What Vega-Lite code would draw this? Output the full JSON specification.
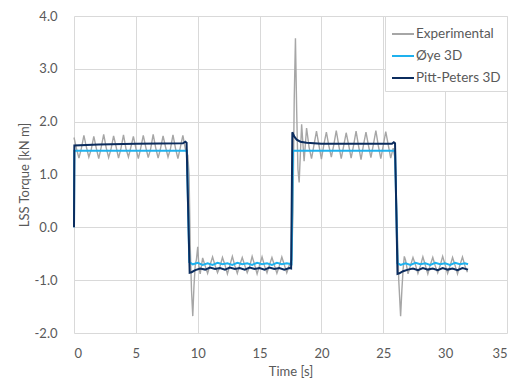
{
  "$schema": "https://vega.github.io/schema/vega-lite/v6.json",
  "width": 433,
  "height": 317,
  "autosize": {"type": "none"},
  "padding": {"left": 74, "top": 16, "right": 11, "bottom": 54},
  "background": "white",
  "datasets": {
    "exp": [
      {"t":0.0,"v":1.70},{"t":0.2,"v":1.49},{"t":0.4,"v":1.31},{"t":0.6,"v":1.50},{"t":0.8,"v":1.74},{"t":1.0,"v":1.52},{"t":1.2,"v":1.33},{"t":1.4,"v":1.48},{"t":1.6,"v":1.72},{"t":1.8,"v":1.50},
      {"t":2.0,"v":1.30},{"t":2.2,"v":1.52},{"t":2.4,"v":1.76},{"t":2.6,"v":1.51},{"t":2.8,"v":1.32},{"t":3.0,"v":1.49},{"t":3.2,"v":1.73},{"t":3.4,"v":1.53},{"t":3.6,"v":1.31},{"t":3.8,"v":1.50},
      {"t":4.0,"v":1.75},{"t":4.2,"v":1.49},{"t":4.4,"v":1.33},{"t":4.6,"v":1.52},{"t":4.8,"v":1.72},{"t":5.0,"v":1.50},{"t":5.2,"v":1.30},{"t":5.4,"v":1.51},{"t":5.6,"v":1.74},{"t":5.8,"v":1.52},
      {"t":6.0,"v":1.32},{"t":6.2,"v":1.49},{"t":6.4,"v":1.76},{"t":6.6,"v":1.51},{"t":6.8,"v":1.31},{"t":7.0,"v":1.50},{"t":7.2,"v":1.73},{"t":7.4,"v":1.52},{"t":7.6,"v":1.33},{"t":7.8,"v":1.49},
      {"t":8.0,"v":1.75},{"t":8.2,"v":1.50},{"t":8.4,"v":1.30},{"t":8.6,"v":1.52},{"t":8.8,"v":1.74},{"t":9.0,"v":1.48},{"t":9.2,"v":1.36},{"t":9.3,"v":1.0},{"t":9.4,"v":-0.4},{"t":9.5,"v":-1.2},
      {"t":9.6,"v":-1.68},{"t":9.7,"v":-1.1},{"t":9.8,"v":-0.72},{"t":9.9,"v":-0.6},{"t":10.0,"v":-0.37},{"t":10.1,"v":-0.75},{"t":10.2,"v":-0.88},{"t":10.4,"v":-0.58},{"t":10.6,"v":-0.73},{"t":10.8,"v":-0.87},
      {"t":11.0,"v":-0.71},{"t":11.2,"v":-0.56},{"t":11.4,"v":-0.72},{"t":11.6,"v":-0.86},{"t":11.8,"v":-0.74},{"t":12.0,"v":-0.57},{"t":12.2,"v":-0.71},{"t":12.4,"v":-0.88},{"t":12.6,"v":-0.72},{"t":12.8,"v":-0.55},
      {"t":13.0,"v":-0.73},{"t":13.2,"v":-0.87},{"t":13.4,"v":-0.71},{"t":13.6,"v":-0.57},{"t":13.8,"v":-0.72},{"t":14.0,"v":-0.86},{"t":14.2,"v":-0.74},{"t":14.4,"v":-0.55},{"t":14.6,"v":-0.71},{"t":14.8,"v":-0.88},
      {"t":15.0,"v":-0.72},{"t":15.2,"v":-0.56},{"t":15.4,"v":-0.73},{"t":15.6,"v":-0.86},{"t":15.8,"v":-0.71},{"t":16.0,"v":-0.57},{"t":16.2,"v":-0.72},{"t":16.4,"v":-0.87},{"t":16.6,"v":-0.73},{"t":16.8,"v":-0.56},
      {"t":17.0,"v":-0.71},{"t":17.2,"v":-0.86},{"t":17.4,"v":-0.72},{"t":17.6,"v":-0.62},{"t":17.7,"v":0.3},{"t":17.8,"v":2.4},{"t":17.9,"v":3.58},{"t":18.0,"v":2.2},{"t":18.1,"v":1.1},{"t":18.2,"v":0.85},
      {"t":18.3,"v":1.4},{"t":18.4,"v":1.95},{"t":18.5,"v":1.6},{"t":18.6,"v":1.25},{"t":18.8,"v":1.88},{"t":19.0,"v":1.52},{"t":19.2,"v":1.30},{"t":19.4,"v":1.56},{"t":19.6,"v":1.82},{"t":19.8,"v":1.55},
      {"t":20.0,"v":1.29},{"t":20.2,"v":1.57},{"t":20.4,"v":1.80},{"t":20.6,"v":1.54},{"t":20.8,"v":1.33},{"t":21.0,"v":1.56},{"t":21.2,"v":1.83},{"t":21.4,"v":1.55},{"t":21.6,"v":1.30},{"t":21.8,"v":1.54},
      {"t":22.0,"v":1.79},{"t":22.2,"v":1.56},{"t":22.4,"v":1.31},{"t":22.6,"v":1.55},{"t":22.8,"v":1.82},{"t":23.0,"v":1.54},{"t":23.2,"v":1.28},{"t":23.4,"v":1.56},{"t":23.6,"v":1.80},{"t":23.8,"v":1.55},
      {"t":24.0,"v":1.32},{"t":24.2,"v":1.57},{"t":24.4,"v":1.83},{"t":24.6,"v":1.54},{"t":24.8,"v":1.30},{"t":25.0,"v":1.55},{"t":25.2,"v":1.81},{"t":25.4,"v":1.56},{"t":25.6,"v":1.31},{"t":25.8,"v":1.50},
      {"t":25.95,"v":1.3},{"t":26.1,"v":0.2},{"t":26.25,"v":-1.0},{"t":26.4,"v":-1.68},{"t":26.5,"v":-1.2},{"t":26.6,"v":-0.8},{"t":26.7,"v":-0.55},{"t":26.8,"v":-0.62},{"t":27.0,"v":-0.88},{"t":27.2,"v":-0.72},
      {"t":27.4,"v":-0.57},{"t":27.6,"v":-0.71},{"t":27.8,"v":-0.87},{"t":28.0,"v":-0.73},{"t":28.2,"v":-0.56},{"t":28.4,"v":-0.72},{"t":28.6,"v":-0.88},{"t":28.8,"v":-0.71},{"t":29.0,"v":-0.57},{"t":29.2,"v":-0.73},
      {"t":29.4,"v":-0.86},{"t":29.6,"v":-0.72},{"t":29.8,"v":-0.55},{"t":30.0,"v":-0.71},{"t":30.2,"v":-0.87},{"t":30.4,"v":-0.73},{"t":30.6,"v":-0.57},{"t":30.8,"v":-0.72},{"t":31.0,"v":-0.88},{"t":31.2,"v":-0.71},
      {"t":31.4,"v":-0.56},{"t":31.6,"v":-0.73},{"t":31.8,"v":-0.85}
    ],
    "oye": [
      {"t":0,"v":0},{"t":0.03,"v":1.45},{"t":9.12,"v":1.45},{"t":9.32,"v":-0.66},{"t":9.6,"v":-0.70},{"t":10.0,"v":-0.67},{"t":10.4,"v":-0.71},{"t":10.8,"v":-0.68},{"t":11.2,"v":-0.71},{"t":11.6,"v":-0.67},
      {"t":12.0,"v":-0.70},{"t":12.4,"v":-0.68},{"t":12.8,"v":-0.71},{"t":13.2,"v":-0.67},{"t":13.6,"v":-0.70},{"t":14.0,"v":-0.68},{"t":14.4,"v":-0.71},{"t":14.8,"v":-0.67},{"t":15.2,"v":-0.70},{"t":15.6,"v":-0.68},
      {"t":16.0,"v":-0.71},{"t":16.4,"v":-0.67},{"t":16.8,"v":-0.70},{"t":17.2,"v":-0.68},{"t":17.58,"v":-0.70},{"t":17.7,"v":1.45},{"t":25.95,"v":1.45},{"t":26.15,"v":-0.68},{"t":26.4,"v":-0.71},{"t":26.8,"v":-0.68},
      {"t":27.2,"v":-0.71},{"t":27.6,"v":-0.67},{"t":28.0,"v":-0.70},{"t":28.4,"v":-0.68},{"t":28.8,"v":-0.71},{"t":29.2,"v":-0.67},{"t":29.6,"v":-0.70},{"t":30.0,"v":-0.68},{"t":30.4,"v":-0.71},{"t":30.8,"v":-0.67},
      {"t":31.2,"v":-0.70},{"t":31.6,"v":-0.68},{"t":31.85,"v":-0.70}
    ],
    "pp": [
      {"t":0,"v":0},{"t":0.03,"v":1.55},{"t":2,"v":1.57},{"t":5,"v":1.58},{"t":8.8,"v":1.59},{"t":9.0,"v":1.62},{"t":9.1,"v":1.60},{"t":9.35,"v":-0.86},{"t":9.5,"v":-0.85},{"t":9.8,"v":-0.81},
      {"t":10.2,"v":-0.78},{"t":10.6,"v":-0.80},{"t":11.0,"v":-0.76},{"t":11.4,"v":-0.79},{"t":11.8,"v":-0.77},{"t":12.2,"v":-0.80},{"t":12.6,"v":-0.76},{"t":13.0,"v":-0.79},{"t":13.4,"v":-0.77},{"t":13.8,"v":-0.80},
      {"t":14.2,"v":-0.76},{"t":14.6,"v":-0.79},{"t":15.0,"v":-0.77},{"t":15.4,"v":-0.80},{"t":15.8,"v":-0.76},{"t":16.2,"v":-0.79},{"t":16.6,"v":-0.77},{"t":17.0,"v":-0.80},{"t":17.4,"v":-0.77},{"t":17.55,"v":-0.78},
      {"t":17.65,"v":1.80},{"t":17.8,"v":1.72},{"t":18.0,"v":1.66},{"t":18.3,"v":1.62},{"t":18.8,"v":1.60},{"t":20,"v":1.58},{"t":25.7,"v":1.58},{"t":25.85,"v":1.61},{"t":25.95,"v":1.59},{"t":26.15,"v":-0.88},
      {"t":26.3,"v":-0.87},{"t":26.6,"v":-0.83},{"t":27.0,"v":-0.80},{"t":27.4,"v":-0.78},{"t":27.8,"v":-0.81},{"t":28.2,"v":-0.77},{"t":28.6,"v":-0.80},{"t":29.0,"v":-0.78},{"t":29.4,"v":-0.81},{"t":29.8,"v":-0.77},
      {"t":30.2,"v":-0.80},{"t":30.6,"v":-0.78},{"t":31.0,"v":-0.81},{"t":31.4,"v":-0.77},{"t":31.85,"v":-0.80}
    ]
  },
  "encoding": {
    "x": {
      "field": "t", "type": "quantitative",
      "scale": {"domain": [0, 35], "nice": false},
      "axis": {"values": [0,5,10,15,20,25,30,35], "title": "Time [s]", "labelPadding": 14, "titlePadding": 5}
    },
    "y": {
      "field": "v", "type": "quantitative",
      "scale": {"domain": [-2, 4], "nice": false},
      "axis": {"values": [-2,-1,0,1,2,3,4], "format": ".1f", "labelExpr": "replace(datum.label, '\u2212', '-')", "title": "LSS Torque [kN m]", "labelPadding": 17, "titlePadding": 3}
    }
  },
  "layer": [
    {
      "data": {"name": "exp"},
      "mark": {"type": "line", "strokeWidth": 1.4, "interpolate": "linear"},
      "encoding": {"color": {"datum": "Experimental", "type": "nominal",
        "scale": {"domain": ["Experimental", "Øye 3D", "Pitt-Peters 3D"], "range": ["#a6a6a6", "#1eb1ee", "#0b2c5e"]},
        "legend": {"title": null}}}
    },
    {
      "data": {"name": "oye"},
      "mark": {"type": "line", "strokeWidth": 2},
      "encoding": {"color": {"datum": "Øye 3D", "type": "nominal"}}
    },
    {
      "data": {"name": "pp"},
      "mark": {"type": "line", "strokeWidth": 2},
      "encoding": {"color": {"datum": "Pitt-Peters 3D", "type": "nominal"}}
    }
  ],
  "config": {
    "view": {"stroke": null},
    "font": "Lato",
    "axis": {
      "domain": false, "ticks": false,
      "grid": true, "gridColor": "#d9d9d9", "gridWidth": 1,
      "labelFont": "Lato", "labelFontSize": 13, "labelColor": "#595959",
      "titleFont": "Lato", "titleFontSize": 13, "titleColor": "#595959", "titleFontWeight": "normal"
    },
    "legend": {
      "orient": "top-right", "offset": 0,
      "padding": 6, "fillColor": "white", "strokeColor": "#d9d9d9",
      "symbolType": "stroke", "symbolSize": 484, "symbolStrokeWidth": 2,
      "labelFont": "Lato", "labelFontSize": 13.5, "labelColor": "#595959", "labelOffset": 1,
      "rowPadding": 3
    }
  }
}
